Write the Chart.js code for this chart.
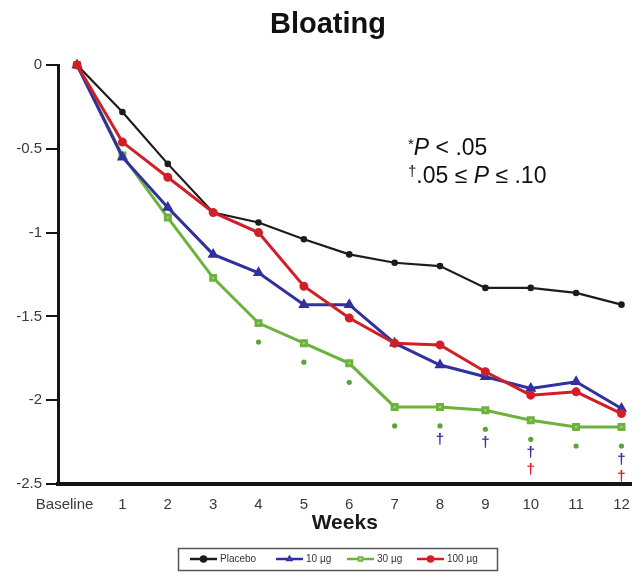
<!DOCTYPE html>
<html>
<head>
<meta charset="utf-8">
<script src="https://cdn.jsdelivr.net/npm/chart.js@4.4.1/dist/chart.umd.min.js"></script>
<style>
  html, body { margin: 0; padding: 0; background: #fff; }
  #wrap { width: 642px; height: 577px; }
</style>
</head>
<body>
<div id="wrap"><canvas id="chart" width="642" height="577"></canvas></div>
<script>
// ---- data ----
const weeks = [0, 1, 2, 3, 4, 5, 6, 7, 8, 9, 10, 11, 12];
const weekLabels = ["Baseline", "1", "2", "3", "4", "5", "6", "7", "8", "9", "10", "11", "12"];
const yTicks = [0, -0.5, -1, -1.5, -2, -2.5];

const placebo = [0, -0.28, -0.59, -0.88, -0.94, -1.04, -1.13, -1.18, -1.20, -1.33, -1.33, -1.36, -1.43];
const dose10  = [0, -0.55, -0.85, -1.13, -1.24, -1.43, -1.43, -1.66, -1.79, -1.86, -1.93, -1.89, -2.05];
const dose30  = [0, -0.54, -0.91, -1.27, -1.54, -1.66, -1.78, -2.04, -2.04, -2.06, -2.12, -2.16, -2.16];
const dose100 = [0, -0.46, -0.67, -0.88, -1.00, -1.32, -1.51, -1.66, -1.67, -1.83, -1.97, -1.95, -2.08];

// weeks with significance marks
const sig30 = [4, 5, 6, 7, 8, 9, 10, 11, 12];   // * P < .05 (30 ug)
const trend10 = [8, 9, 10, 12];                 // † .05 <= P <= .10 (10 ug)
const trend100 = [10, 12];                      // † (100 ug)

const BLACK = "#1c1c1c";
const BLUE = "#30309e";
const GREEN = "#6cb33e";
const RED = "#d21f27";

const toPoints = (vals) => weeks.map((w, i) => ({ x: w, y: vals[i] }));

/* ----- plugin: title, p-value note, significance marks, legend box ----- */
const decorations = {
  id: "decorations",
  afterDatasetsDraw(chart) {
    const ctx = chart.ctx;
    const xs = chart.scales.x;
    const ys = chart.scales.y;
    ctx.save();

    // title
    ctx.fillStyle = "#111";
    ctx.font = "bold 29px 'Liberation Sans', Arial, sans-serif";
    ctx.textAlign = "center";
    ctx.textBaseline = "alphabetic";
    ctx.fillText("Bloating", 328, 33);

    // p-value note
    ctx.textAlign = "left";
    const big = "23px 'Liberation Sans', Arial, sans-serif";
    const ital = "italic 23px 'Liberation Sans', Arial, sans-serif";
    const small = "15px 'Liberation Sans', Arial, sans-serif";
    const drawRun = (parts, x, y) => {
      parts.forEach(([txt, font, dy]) => {
        ctx.font = font;
        ctx.fillText(txt, x, y + (dy || 0));
        x += ctx.measureText(txt).width;
      });
    };
    drawRun([["*", small, -6], ["P", ital], [" < .05", big]], 408, 155);
    drawRun([["†", small, -7], [".05 ≤ ", big], ["P", ital], [" ≤ .10", big]], 408, 183);

    // significance marks under the 30 ug line
    ctx.textAlign = "center";
    ctx.textBaseline = "middle";
    ctx.font = "bold 15px 'Liberation Sans', Arial, sans-serif";
    weeks.forEach((w, i) => {
      const px = xs.getPixelForValue(w);
      let py = ys.getPixelForValue(dose30[i]) + 19;
      if (sig30.includes(w)) {
        ctx.fillStyle = "#5aa53a";
        ctx.beginPath();
        ctx.arc(px, py, 2.6, 0, Math.PI * 2);
        ctx.fill();
      }
      if (trend10.includes(w)) {
        py += 14;
        ctx.fillStyle = BLUE;
        ctx.fillText("†", px, py);
      }
      if (trend100.includes(w)) {
        py += 17;
        ctx.fillStyle = RED;
        ctx.fillText("†", px, py);
      }
    });

    // legend box
    ctx.strokeStyle = "#555";
    ctx.lineWidth = 1.5;
    ctx.strokeRect(178.5, 548.5, 319, 22);
    ctx.font = "10px 'Liberation Sans', Arial, sans-serif";
    ctx.textAlign = "left";
    ctx.textBaseline = "middle";
    const starts = [190, 276, 347, 417];
    chart.data.datasets.forEach((ds, i) => {
      const x0 = starts[i];
      const y0 = 559;
      ctx.strokeStyle = ds.borderColor;
      ctx.lineWidth = 2.5;
      ctx.beginPath();
      ctx.moveTo(x0, y0);
      ctx.lineTo(x0 + 27, y0);
      ctx.stroke();
      ctx.fillStyle = ds.pointBackgroundColor;
      ctx.strokeStyle = ds.borderColor;
      ctx.lineWidth = 1.5;
      Chart.helpers.drawPoint(ctx, {
        pointStyle: ds.pointStyle,
        radius: 3,
        borderWidth: 1.5,
        rotation: 0
      }, x0 + 13.5, y0);
      ctx.fillStyle = "#333";
      ctx.fillText(ds.label, x0 + 30, y0 + 0.5);
    });

    ctx.restore();
  }
};

new Chart(document.getElementById("chart"), {
  type: "line",
  data: {
    datasets: [
      {
        label: "Placebo",
        data: toPoints(placebo),
        borderColor: BLACK,
        backgroundColor: BLACK,
        pointBackgroundColor: BLACK,
        borderWidth: 2.2,
        pointStyle: "circle",
        pointRadius: 2.2,
        order: 3
      },
      {
        label: "10 µg",
        data: toPoints(dose10),
        borderColor: BLUE,
        backgroundColor: BLUE,
        pointBackgroundColor: "#5a5ac8",
        borderWidth: 3,
        pointStyle: "triangle",
        pointRadius: 3.5,
        order: 1
      },
      {
        label: "30 µg",
        data: toPoints(dose30),
        borderColor: GREEN,
        backgroundColor: GREEN,
        pointBackgroundColor: "#a8d88a",
        borderWidth: 3,
        pointStyle: "rect",
        pointRadius: 3.5,
        order: 2
      },
      {
        label: "100 µg",
        data: toPoints(dose100),
        borderColor: RED,
        backgroundColor: RED,
        pointBackgroundColor: RED,
        borderWidth: 3,
        pointStyle: "circle",
        pointRadius: 3,
        order: 0
      }
    ]
  },
  options: {
    responsive: false,
    animation: false,
    devicePixelRatio: 1,
    layout: { padding: { left: 0, right: 10, top: 65, bottom: 40 } },
    elements: { line: { tension: 0 } },
    datasets: { line: { clip: false } },
    plugins: {
      legend: { display: false },
      title: { display: false },
      tooltip: { enabled: false }
    },
    scales: {
      x: {
        type: "linear",
        min: -0.42,
        max: 12.22,
        afterBuildTicks: (s) => { s.ticks = weeks.map((v) => ({ value: v })); },
        afterFit: (s) => { s.height = 53; },
        grid: { display: false, drawTicks: false },
        border: { display: true, color: "#151515", width: 4 },
        ticks: {
          padding: 12,
          color: "#3a3a3a",
          font: { family: "'Liberation Sans', Arial, sans-serif", size: 15 },
          maxRotation: 0,
          autoSkip: false,
          callback: (v) => (v === 0 ? weekLabels[0] + "      " : weekLabels[weeks.indexOf(v)])
        },
        title: {
          display: true,
          text: "Weeks",
          color: "#1a1a1a",
          font: { family: "'Liberation Sans', Arial, sans-serif", size: 21, weight: "bold" },
          padding: { top: 0, bottom: 1 }
        }
      },
      y: {
        type: "linear",
        min: -2.5,
        max: 0,
        afterBuildTicks: (s) => { s.ticks = yTicks.map((v) => ({ value: v })); },
        afterFit: (s) => { s.width = 58; },
        grid: {
          display: true,
          drawOnChartArea: false,
          drawTicks: true,
          tickLength: 12,
          color: "#151515",
          lineWidth: 2
        },
        border: { display: true, color: "#151515", width: 3 },
        ticks: {
          padding: 4,
          color: "#3a3a3a",
          font: { family: "'Liberation Sans', Arial, sans-serif", size: 15 },
          callback: (v) => String(v)
        }
      }
    }
  },
  plugins: [decorations]
});
</script>
</body>
</html>
